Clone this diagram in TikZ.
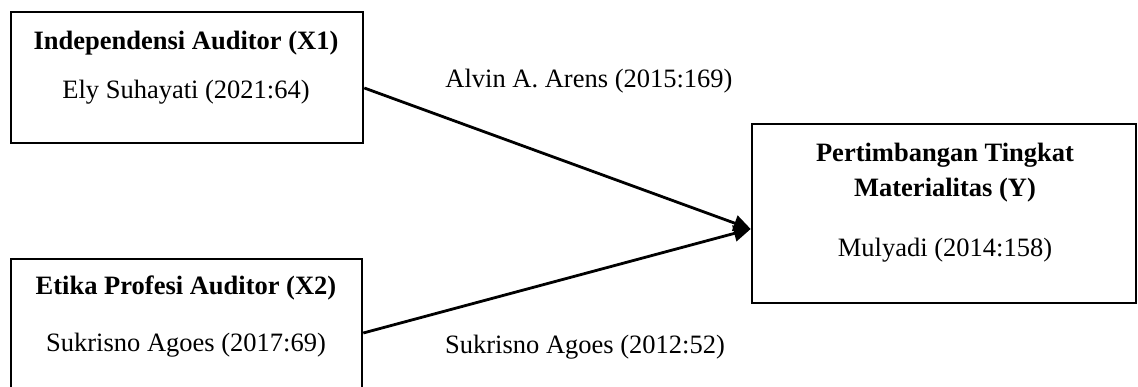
\documentclass[tikz,border=0pt]{standalone}
\usepackage{fontspec}
\setmainfont{Liberation Serif}
\usetikzlibrary{arrows.meta}
\tikzset{
  box/.style={draw=black, line width=2.6pt, rectangle, inner sep=0pt},
  txt/.style={anchor=base, inner sep=0pt, font=\fontsize{26.5}{30}\selectfont},
  btxt/.style={txt, font=\fontsize{26.5}{30}\selectfont\bfseries},
  conn/.style={line width=2.8pt, -{Triangle[length=17pt,width=16pt]}}
}
\begin{document}
\begin{tikzpicture}[x=1pt,y=-1pt]
\useasboundingbox (0,0) rectangle (1138,387);
\clip (0,0) rectangle (1138,387);
% boxes
\node[box, minimum width=352pt, minimum height=131pt] (x1) at (187,77.5) {};
\node[box, minimum width=351pt, minimum height=160pt] (x2) at (186.5,339) {};
\node[box, minimum width=384pt, minimum height=179pt] (y) at (944,213.5) {};
% box texts
\node[btxt] (x1a) at (186,50) {Independensi Auditor (X1)};
\node[txt] (x1b) at (186,99) {Ely Suhayati (2021:64)};
\node[btxt] (x2a) at (186,295) {Etika Profesi Auditor (X2)};
\node[txt] (x2b) at (186,352) {Sukrisno Agoes (2017:69)};
\node[btxt] (ya) at (945,162) {Pertimbangan Tingkat};
\node[btxt] (yb) at (945,197) {Materialitas (Y)};
\node[txt] (yc) at (945,257) {Mulyadi (2014:158)};
% connectors
\coordinate (s1) at (x1.east |- 0,88);
\coordinate (s2) at (x2.east |- 0,333);
\coordinate (t) at (y.west |- 0,229);
\draw[conn] (s1) -- (t);
\draw[conn] (s2) -- (t);
% labels
\node[txt] (l1) at (589,88) {Alvin A. Arens (2015:169)};
\node[txt] (l2) at (585,353) {Sukrisno Agoes (2012:52)};
\end{tikzpicture}
\end{document}
